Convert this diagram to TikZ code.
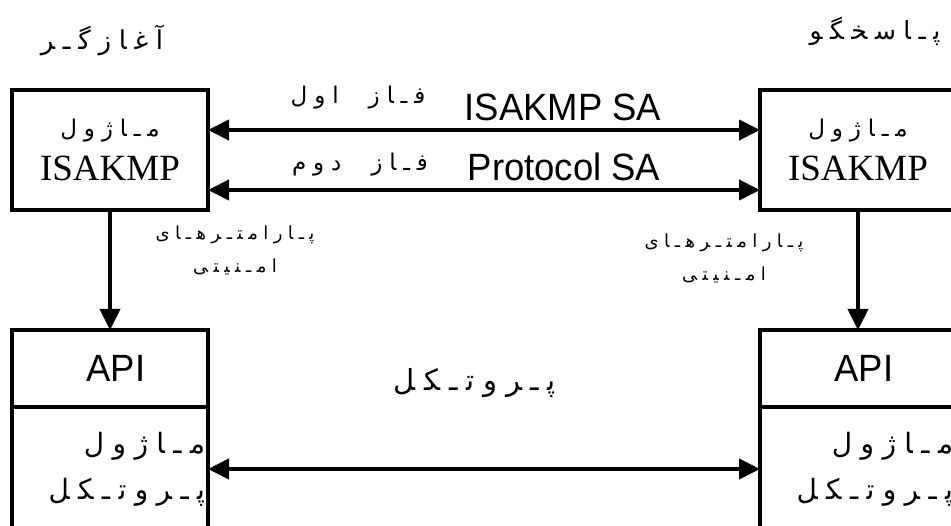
\documentclass[tikz,border=0pt]{standalone}
\usepackage{fontspec}
\setmainfont{Liberation Serif}
\newfontfamily\lsans[FakeStretch=0.96]{Liberation Sans}
\newfontfamily\fafont[Script=Arabic,LetterSpace=30]{DejaVu Sans}
\TeXXeTstate=1
\usetikzlibrary{positioning,arrows.meta}
\newcommand\fa[1]{{\fafont\beginR #1\endR}}

\begin{document}
\begin{tikzpicture}[x=1pt,y=-1pt,
  modbox/.style={rectangle,draw=black,line width=4pt,minimum width=196pt,
                 inner sep=0pt,outer sep=0pt,align=center},
  arr/.style={line width=4pt,-{Triangle[length=21pt,width=20pt]}},
  biarr/.style={line width=4pt,{Triangle[length=21pt,width=20pt]}-{Triangle[length=21pt,width=20pt]}},
  latlbl/.style={font=\lsans\fontsize{38}{40}\selectfont,inner sep=0pt},
  falbl/.style={font=\fafont\fontsize{23}{24}\selectfont,inner sep=0pt,align=center},
]
\useasboundingbox (0,0) rectangle (951,526);

% ISAKMP modules
\node[modbox,minimum height=120pt,font=\fontsize{37}{44}\selectfont] (isaL) at (110,150)
  {{\fontsize{23}{22}\selectfont\fa{مـاژول}}\\ISAKMP};
\node[modbox,minimum height=120pt,font=\fontsize{37}{44}\selectfont] (isaR) at (858,150)
  {{\fontsize{23}{22}\selectfont\fa{مـاژول}}\\ISAKMP};

% API + protocol modules
\node[modbox,minimum height=77pt,font=\lsans\fontsize{38}{40}\selectfont] (apiL) at (110,368.5) {\hspace{12pt}API};
\node[modbox,minimum height=124pt,below=0pt of apiL,text width=190pt,align=right,
      font=\fafont\fontsize{28}{46}\selectfont] (protL) {\fa{مـاژول}\\\fa{پـروتـکل}};
\node[modbox,minimum height=77pt,font=\lsans\fontsize{38}{40}\selectfont] (apiR) at (858,368.5) {\hspace{12pt}API};
\node[modbox,minimum height=124pt,below=0pt of apiR,text width=190pt,align=right,
      font=\fafont\fontsize{28}{46}\selectfont] (protR) {\fa{مـاژول}\\\fa{پـروتـکل}};

% roles
\node[falbl,font=\fafont\fontsize{26}{26}\selectfont] (init) at (102,40) {\fa{آغازگـر}};
\node[falbl,font=\fafont\fontsize{25}{26}\selectfont] (resp) at (875,31) {\fa{پـاسخگو}};

% phase labels
\node[falbl] (ph1fa) at (358,98) {\fa{فـاز\hspace{30pt}اول}};
\node[latlbl] (ph1en) at (563,107) {ISAKMP SA};
\node[falbl] (ph2fa) at (360,165) {\fa{فـاز\hspace{30pt}دوم}};
\node[latlbl] (ph2en) at (564,167) {Protocol SA};

% security parameters
\node[falbl,font=\fafont\fontsize{18}{33}\selectfont] (parL) at (235,250) {\fa{پـارامتـرهـای}\\\fa{امـنیتی}};
\node[falbl,font=\fafont\fontsize{18}{33}\selectfont] (parR) at (724,258) {\fa{پـارامتـرهـای}\\\fa{امـنیتی}};

\node[falbl,font=\fafont\fontsize{29}{30}\selectfont] (proto) at (475,383) {\fa{پـروتـکل}};

% connectors
\draw[biarr] ([yshift=20pt]isaL.east) -- ([yshift=20pt]isaR.west);
\draw[biarr] ([yshift=-40pt]isaL.east) -- ([yshift=-40pt]isaR.west);
\draw[arr] (isaL) -- (apiL);
\draw[arr] (isaR) -- (apiR);
\draw[biarr] (protL) -- (protR);
\end{tikzpicture}
\end{document}
